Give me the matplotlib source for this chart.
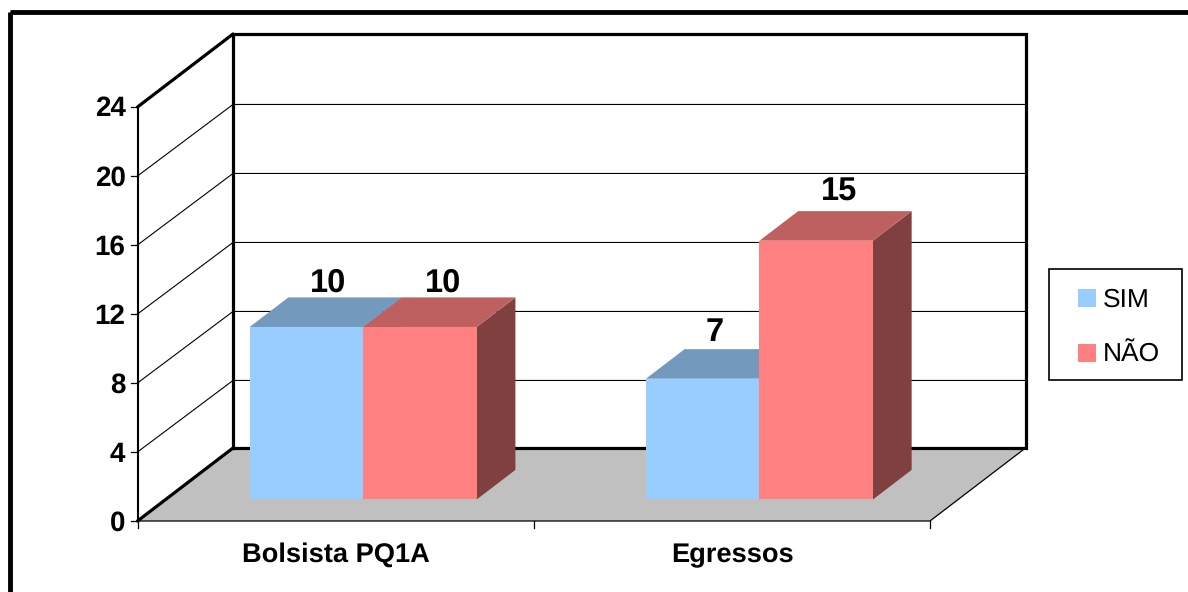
import matplotlib
matplotlib.use("Agg")
import matplotlib.pyplot as plt
from matplotlib.patches import Polygon, Rectangle

plt.rcParams['font.family'] = ['Liberation Sans', 'DejaVu Sans']
plt.rcParams['text.hinting'] = 'no_hinting'

# Chart data
categories = ["Bolsista PQ1A", "Egressos"]
series_names = ["SIM", "NÃO"]
sim_values = [10, 7]
nao_values = [10, 15]
y_ticks = [0, 4, 8, 12, 16, 20, 24]

# Oblique projection of the 3-D box onto the canvas (pixel units)
X0, X1 = 137.5, 930.0      # front floor edge
Y0, Y24 = 521.0, 107.0     # front value axis
DX, DY = 95.5, -73.0       # shift from front plane to back wall
Y_MAX = 24
GAP = 0.2120               # margin inside each category, as a share of its width
BAR_W = 0.2865             # width of one bar, as a share of the category width
DEPTH_NEAR, DEPTH_FAR = 0.295, 0.70
GRID_DEPTH = 0.98          # gridlines meet the back wall slightly below its outline


def project(cat, value, depth):
    """cat in category units, value in data units, depth in 0..1 front to back."""
    px = X0 + (X1 - X0) * cat / len(categories) + DX * depth
    py = Y0 + (Y24 - Y0) * value / Y_MAX + DY * depth
    return px, py


SIM_FRONT, SIM_TOP, SIM_SIDE = "#99ccff", "#7399bd", "#4d6680"
NAO_FRONT, NAO_TOP, NAO_SIDE = "#ff8080", "#bf6060", "#804040"

fig = plt.figure(figsize=(11.88, 5.92), dpi=100)
ax = fig.add_axes([0, 0, 1, 1])
ax.set_xlim(0, 1188)
ax.set_ylim(592, 0)
ax.axis("off")

# Outer chart frame, running off the right and bottom edges
ax.add_patch(Rectangle((10.4, 11.7), 1300, 700, fill=False, ec="black", lw=3.5, zorder=1))

# Floor
ax.add_patch(Polygon([project(0, 0, 0), project(2, 0, 0), project(2, 0, 1), project(0, 0, 1)],
                     closed=True, fc="#c0c0c0", ec="none", zorder=2))

# Gridlines on the side and back walls
for t in y_ticks[1:-1]:
    px0, py0 = project(0, t, 0)
    px1, py1 = project(0, t, GRID_DEPTH)
    back_x, _ = project(0, t, 1)
    far_x, _ = project(2, t, 1)
    ax.plot([px0, back_x, far_x], [py0, py1, py1], color="black", lw=0.8, zorder=2,
            solid_joinstyle="miter")

# Heavy wall outline
xs, ys = zip(project(0, 0, 1), project(0, Y_MAX, 1), project(2, Y_MAX, 1),
             project(2, 0, 1), project(0, 0, 1))
ax.plot(xs, ys, color="black", lw=2.3, zorder=3, solid_joinstyle="miter")
for t in (0, Y_MAX):
    xs, ys = zip(project(0, t, 0), project(0, t, 1))
    ax.plot(xs, ys, color="black", lw=2.3, zorder=3, solid_capstyle="round")

# Front axis lines, floor edge and ticks
xs, ys = zip(project(0, 0, 0), project(0, Y_MAX, 0))
ax.plot(xs, ys, color="black", lw=1.5, zorder=3)
xs, ys = zip(project(0, 0, 0), project(2, 0, 0), project(2, 0, 1))
ax.plot(xs, ys, color="black", lw=0.9, zorder=3)
for t in y_ticks:
    px, py = project(0, t, 0)
    ax.plot([px - 7, px], [py, py], color="black", lw=0.9, zorder=3)
    ax.text(px - 12, py + 9.5, str(t), ha="right", va="baseline", fontsize=20,
            fontweight="bold", color="black", zorder=6)
for c in range(len(categories) + 1):
    px, py = project(c, 0, 0)
    ax.plot([px, px], [py, py + 7], color="black", lw=0.9, zorder=3)


def draw_bar(left, right, value, front, top, side, z):
    fl = [project(left, 0, DEPTH_NEAR), project(right, 0, DEPTH_NEAR),
          project(right, value, DEPTH_NEAR), project(left, value, DEPTH_NEAR)]
    tp = [project(left, value, DEPTH_NEAR), project(right, value, DEPTH_NEAR),
          project(right, value, DEPTH_FAR), project(left, value, DEPTH_FAR)]
    sd = [project(right, 0, DEPTH_NEAR), project(right, 0, DEPTH_FAR),
          project(right, value, DEPTH_FAR), project(right, value, DEPTH_NEAR)]
    ax.add_patch(Polygon(sd, closed=True, fc=side, ec="none", zorder=z))
    ax.add_patch(Polygon(tp, closed=True, fc=top, ec="none", zorder=z))
    ax.add_patch(Polygon(fl, closed=True, fc=front, ec="none", zorder=z))


# Pixel nudges for the value labels, by category and series
label_nudges = {(0, 0): (2, -6), (0, 1): (4, -6), (1, 0): (-7, -8), (1, 1): (4, -10)}

# Clustered bars with their value labels
depth_mid = (DEPTH_NEAR + DEPTH_FAR) / 2
for i in range(len(categories)):
    a, b, c = i + GAP, i + GAP + BAR_W, i + GAP + 2 * BAR_W
    draw_bar(a, b, sim_values[i], SIM_FRONT, SIM_TOP, SIM_SIDE, 4)
    draw_bar(b, c, nao_values[i], NAO_FRONT, NAO_TOP, NAO_SIDE, 5)
    for s, (left, right, v) in enumerate(((a, b, sim_values[i]), (b, c, nao_values[i]))):
        px, _ = project((left + right) / 2, v, depth_mid)
        _, py = project(left, v, DEPTH_FAR)
        nx, ny = label_nudges[(i, s)]
        ax.text(px + nx, py + ny, str(v), ha="center", va="baseline", fontsize=23.5,
                fontweight="bold", color="black", zorder=7)
    px, py = project(i + 0.5, 0, 0)
    ax.text(px + 0.5, py + 41, categories[i], ha="center", va="baseline", fontsize=19.6,
            fontweight="bold", color="black", zorder=6)

# Legend
ax.add_patch(Rectangle((1049, 269), 133, 111, fc="white", ec="black", lw=1.2, zorder=6))
legend_rows = ((298, SIM_FRONT), (353, NAO_FRONT))
for name, (ly, colour) in zip(series_names, legend_rows):
    ax.add_patch(Rectangle((1078, ly - 9), 18, 18, fc=colour, ec="none", zorder=7))
    ax.text(1103, ly + 8.5, name, ha="left", va="baseline", fontsize=19,
            color="black", zorder=7)

fig.savefig("out.png", dpi=100, facecolor="white")
